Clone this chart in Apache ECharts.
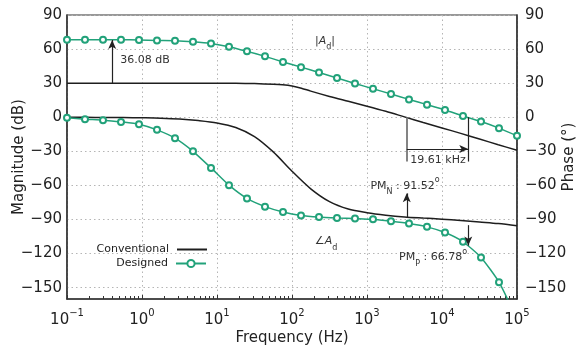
<!DOCTYPE html>
<html>
<head>
<meta charset="utf-8">
<script src="https://cdn.jsdelivr.net/npm/echarts@6/dist/echarts.min.js"></script>
<style>html,body{margin:0;padding:0;background:#fff}#c{width:576px;height:349px}</style>
</head>
<body>
<div id="c"></div>
<script>
// Conventional design: log10(frequency) and values
var convLogF = [-1,-0.75,-0.5,-0.25,0,0.25,0.5,0.75,1,1.25,1.5,1.75,1.875,2,2.125,2.25,2.5,2.75,3,3.25,3.5,3.75,4,4.25,4.5,4.75,5];
var convMag = [30,30,30,30,30,30,30,30,30,29.9,29.6,29.0,28.5,27.5,25.6,23.0,18.3,14.0,9.7,5.2,0.3,-4.6,-9.4,-14.2,-19.2,-24.2,-29];
var convPhaseLogF = [-1,-0.75,-0.5,-0.25,0,0.25,0.5,0.75,1,1.25,1.5,1.75,2,2.25,2.5,2.75,3,3.25,3.5,3.75,4,4.25,4.5,4.75,5];
var convPhase = [0,-0.1,-0.2,-0.3,-0.5,-0.8,-1.5,-2.9,-5.0,-9.0,-17.0,-30.5,-47.5,-63.0,-74.3,-80.8,-84.0,-86.2,-87.8,-88.8,-89.7,-90.8,-92.2,-93.6,-95.5];
// Designed (marker points)
var desLogF = [-1,-0.76,-0.52,-0.28,-0.04,0.2,0.44,0.68,0.92,1.16,1.4,1.64,1.88,2.12,2.36,2.6,2.84,3.08,3.32,3.56,3.8,4.04,4.28,4.52,4.76,5];
var desMag = [68.2,68.2,68.2,68.2,68.0,67.6,67.4,66.5,65.0,62.1,58.0,53.6,48.7,44.1,39.4,34.5,29.7,25.1,20.4,15.7,11.1,6.4,1.1,-3.8,-9.6,-16.4];
var desPhase = [-0.5,-1.7,-2.6,-4.1,-6.1,-11.1,-18.4,-30,-44.6,-59.8,-71.5,-78.7,-83.4,-86.4,-87.8,-88.6,-89.2,-89.9,-91.6,-93.6,-96.5,-101.5,-109.6,-123.4,-145.2,-178];
var yTicks = [90,60,30,0,-30,-60,-90,-120,-150];
// annotation values
var fGainArrow = 0.4, gainLow = 30, gainHigh = 68;
var fcConv = 3390, fcDes = 22390;
var pmNLow = -88, pmNHigh = -67;
var pmPHigh = -95, pmPLow = -113;

function pairs(lf, v){ return lf.map(function(e,i){ return [Math.pow(10,e), v[i]]; }); }
var minorExp = [];
for (var n=-1;n<5;n++){ for (var k=2;k<=9;k++){ minorExp.push(n+Math.log10(k)); } }

var FONT = 'DejaVu Sans';
var GREEN = '#22a27a';
var BLACK = '#1e1e1e';
function minus(s){ return String(s).replace('-', '\u2212'); }
var richTxt = {
  b: {fontFamily: FONT, fontSize: 11, color: '#333', lineHeight: 16, verticalAlign: 'middle'},
  it: {fontFamily: FONT, fontSize: 11, color: '#333', fontStyle: 'italic', lineHeight: 16, verticalAlign: 'middle'},
  sub: {fontFamily: FONT, fontSize: 8, color: '#333', lineHeight: 16, verticalAlign: 'bottom', padding: [0,0,-2,0]},
  sup: {fontFamily: FONT, fontSize: 8, color: '#333', lineHeight: 16, verticalAlign: 'top', padding: [-2,0,0,0]}
};
function txt(f, v, s){
  return {coord: [f, v], symbol: 'circle', symbolSize: 1, itemStyle: {color: 'transparent'},
    label: {show: true, position: 'inside', formatter: s, rich: richTxt, fontFamily: FONT, fontSize: 11, color: '#333'}};
}
var lineStyleAnn = {color: '#222', width: 1.2, type: 'solid'};

var yAxisBase = function(pos){
  return {
    type: 'value', position: pos, min: -160, max: 90, interval: 10,
    axisLine: {show: true, onZero: false, lineStyle: {color: '#333', width: 1.5}},
    axisTick: {show: false},
    axisLabel: {margin: pos === 'left' ? 5 : 8, fontFamily: FONT, fontSize: 15, color: '#222',
      formatter: function(v){ return yTicks.indexOf(v) >= 0 ? minus(v) : ''; }},
    splitLine: {show: pos === 'left', lineStyle: {color: ['transparent', '#b5b5b5', 'transparent'], type: [1.5, 3], width: 1}},
    name: pos === 'left' ? 'Magnitude (dB)' : 'Phase (\u00b0)',
    nameLocation: 'middle', nameGap: pos === 'left' ? 40 : 45, nameRotate: 90, nameMoveOverlap: false,
    nameTextStyle: {fontFamily: FONT, fontSize: 15, color: '#222'}
  };
};

var chart = echarts.init(document.getElementById('c'));
chart.setOption({
  animation: false,
  backgroundColor: '#fff',
  grid: {left: 67, right: 59, top: 15, bottom: 50, containLabel: false, outerBoundsMode: 'none',
         show: true, borderColor: '#333', borderWidth: 1.2},
  legend: [
    {data: [{name: 'Conventional', icon: 'rect'}], orient: 'vertical', right: 364, top: 239, align: 'right', itemWidth: 30, itemHeight: 2,
     textStyle: {fontFamily: FONT, fontSize: 11, color: '#222', padding: [0,3,0,0]}},
    {data: ['Designed'], orient: 'vertical', right: 364, top: 253, align: 'right', itemWidth: 30, itemHeight: 9,
     textStyle: {fontFamily: FONT, fontSize: 11, color: '#222', padding: [0,3,0,0]}}
  ],
  xAxis: [{
    type: 'log', logBase: 10, min: 0.1, max: 100000, splitNumber: 6,
    axisLine: {show: true, onZero: false, lineStyle: {color: '#333', width: 1.5}},
    axisTick: {show: true, inside: true, length: 4, lineStyle: {color: '#333'}},
    axisLabel: {margin: 9, fontFamily: FONT, fontSize: 15, color: '#222',
      formatter: function(v){ var e = Math.round(Math.log10(v)); return '{b|10}{s|' + minus(e) + '}'; },
      rich: {b: {fontFamily: FONT, fontSize: 15, color: '#222', lineHeight: 20, verticalAlign: 'bottom'},
             s: {fontFamily: FONT, fontSize: 10, color: '#222', lineHeight: 20, verticalAlign: 'top'}}},
    splitLine: {show: true, lineStyle: {color: '#b5b5b5', type: [1.5, 3], width: 1}},
    name: 'Frequency (Hz)', nameLocation: 'middle', nameGap: 32, nameMoveOverlap: false,
    nameTextStyle: {fontFamily: FONT, fontSize: 15, color: '#222'}
  }, {
    type: 'value', min: -1, max: 5, position: 'bottom', gridIndex: 0,
    axisLine: {show: false, onZero: false}, axisLabel: {show: false}, splitLine: {show: false},
    axisTick: {show: true, inside: true, length: 3, customValues: minorExp, lineStyle: {color: '#333'}}
  }],
  yAxis: [yAxisBase('left'), yAxisBase('right')],
  series: [
    {name: 'Conventional', type: 'line', xAxisIndex: 0, yAxisIndex: 0, data: pairs(convLogF, convMag),
     symbol: 'none', smooth: 0.3, lineStyle: {color: BLACK, width: 1.5}, itemStyle: {color: BLACK},
     markLine: {silent: true, symbolSize: [6, 9], label: {show: false}, lineStyle: lineStyleAnn, data: [
       [{coord: [fGainArrow, gainLow], symbol: 'none'}, {coord: [fGainArrow, gainHigh], symbol: 'arrow'}],
       [{coord: [fcConv, 0], symbol: 'none', lineStyle: {color: '#777', width: 1.8}}, {coord: [fcConv, -39], symbol: 'none'}],
       [{coord: [fcDes, 0], symbol: 'none'}, {coord: [fcDes, -39], symbol: 'none'}],
       [{coord: [fcConv, -28], symbol: 'none'}, {coord: [fcDes, -28], symbol: 'arrow'}],
       [{coord: [fcConv, pmNLow], symbol: 'none'}, {coord: [fcConv, pmNHigh], symbol: 'arrow'}],
       [{coord: [fcDes, pmPHigh], symbol: 'none'}, {coord: [fcDes, pmPLow], symbol: 'arrow'}]
     ]},
     markPoint: {silent: true, data: [
       txt(1.1, 50, '{b|36.08 dB}'),
       txt(275, 67, '{b||}{it|A}{sub|d}{b||}'),
       txt(8850, -37.4, '{b|19.61 kHz}'),
       txt(3210, -60.4, '{b|PM}{sub|N}{b| : 91.52}{sup|o}'),
       txt(7590, -123.4, '{b|PM}{sub|P}{b| : 66.78}{sup|o}'),
       txt(284, -109.4, '{b|\u2220}{it|A}{sub|d}')
     ]}
    },
    {name: 'Conventional', type: 'line', xAxisIndex: 0, yAxisIndex: 1, data: pairs(convPhaseLogF, convPhase),
     symbol: 'none', smooth: 0.3, lineStyle: {color: BLACK, width: 1.5}, itemStyle: {color: BLACK}},
    {name: 'Designed', type: 'line', xAxisIndex: 0, yAxisIndex: 0, data: pairs(desLogF, desMag),
     symbol: 'emptyCircle', symbolSize: 6, smooth: 0.2, lineStyle: {color: GREEN, width: 1.5},
     itemStyle: {color: GREEN, borderColor: GREEN, borderWidth: 1.5}},
    {name: 'Designed', type: 'line', xAxisIndex: 0, yAxisIndex: 1, data: pairs(desLogF, desPhase),
     symbol: 'emptyCircle', symbolSize: 6, smooth: 0.2, lineStyle: {color: GREEN, width: 1.5},
     itemStyle: {color: GREEN, borderColor: GREEN, borderWidth: 1.5}}
  ]
});
</script>
</body>
</html>
